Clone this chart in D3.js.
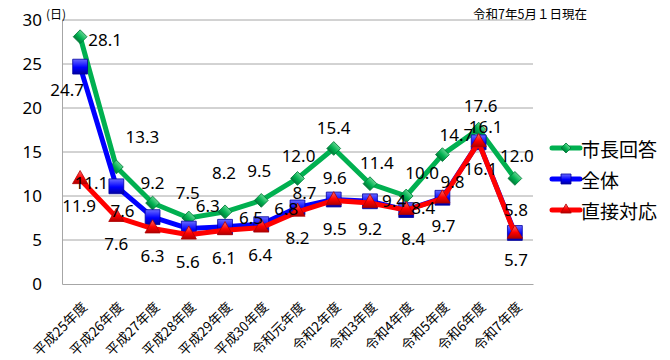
<!DOCTYPE html>
<html>
<head>
<meta charset="utf-8">
<script src="https://cdn.jsdelivr.net/npm/d3@7"></script>
<style>
  body { margin: 0; background: #fff; }
  svg { font-family: "Noto Sans", "Noto Sans CJK JP", sans-serif; }
</style>
</head>
<body>
<svg width="670" height="360"></svg>
<script>
const categories = ["平成25年度", "平成26年度", "平成27年度", "平成28年度", "平成29年度", "平成30年度",
  "令和元年度", "令和2年度", "令和3年度", "令和4年度", "令和5年度", "令和6年度", "令和7年度"];
const mayorValues  = [28.1, 13.3, 9.2, 7.5, 8.2, 9.5, 12.0, 15.4, 11.4, 10.0, 14.7, 17.6, 12.0];
const totalValues  = [24.7, 11.1, 7.6, 6.3, 6.5, 6.8, 8.7, 9.6, 9.4, 8.4, 9.8, 16.1, 5.8];
const directValues = [11.9, 7.6, 6.3, 5.6, 6.1, 6.4, 8.2, 9.5, 9.2, 8.4, 9.7, 16.1, 5.7];
const yTicks = [0, 5, 10, 15, 20, 25, 30];

// label offsets from each point (layout only)
const mayorOffsets  = [[25,3],[26,-30],[0,-21],[-1,-26],[-1,-39],[-2,-30],[1,-23],[0,-21],[7,-21],[16,-24],[14,-20],[2,-24],[2,-23]];
const totalOffsets  = [[-13,23],[-25,-4],[-30,-7],[19,-23],[26,-9],[25,-16],[7,-15],[1,-22],[24,-1],[17,-3],[10,-16],[7,-16],[1,-23]];
const directOffsets = [[-1,26],[0,26],[0,27],[-1,27],[-1,27],[-1,27],[0,26],[1,28],[0,25],[7,28],[1,27],[2,26],[1,26]];

const series = [
  { name: "市長回答", values: mayorValues, offsets: mayorOffsets, color: "#00b050", dark: "#007a38", light: "#5fd68f", shape: d3.symbolSquare, rot: 45, size: 95, lsize: 50 },
  { name: "全体", values: totalValues, offsets: totalOffsets, color: "#0000ff", dark: "#0000a0", light: "#6b6bff", shape: d3.symbolSquare, rot: 0, size: 220, lsize: 100 },
  { name: "直接対応", values: directValues, offsets: directOffsets, color: "#ff0000", dark: "#b00000", light: "#ff7070", shape: d3.symbolTriangle, rot: 0, size: 100, lsize: 48 }
];

const svg = d3.select("svg");
const plotLeft = 62, plotRight = 533, plotTop = 20, plotBottom = 284;

const x = d3.scaleBand().domain(categories).range([plotLeft, plotRight]);
const y = d3.scaleLinear().domain([0, 30]).range([plotBottom, plotTop]);
const cx = c => x(c) + x.bandwidth() / 2;

// gradients for the markers
const defs = svg.append("defs");
series.forEach((s, i) => {
  const g = defs.append("linearGradient").attr("id", "grad" + i)
    .attr("x1", 0).attr("y1", 0).attr("x2", 0).attr("y2", 1);
  g.append("stop").attr("offset", "0%").attr("stop-color", s.light);
  g.append("stop").attr("offset", "55%").attr("stop-color", s.color);
  g.append("stop").attr("offset", "100%").attr("stop-color", s.dark);
});

// gridlines
svg.append("g")
  .selectAll("line")
  .data(yTicks.filter(t => t > 0))
  .enter().append("line")
  .attr("x1", plotLeft).attr("x2", plotRight)
  .attr("y1", d => y(d)).attr("y2", d => y(d))
  .attr("stroke", "#a6a6a6").attr("stroke-width", 1);

// y axis
const yAxis = svg.append("g")
  .attr("transform", `translate(${plotLeft},0)`)
  .call(d3.axisLeft(y).tickValues(yTicks).tickSize(0).tickPadding(20));
yAxis.select(".domain").attr("stroke", "#a6a6a6");
yAxis.selectAll("text").attr("font-size", 17).attr("fill", "#000")
  .attr("font-family", "\"Noto Sans\", sans-serif");

// x axis
const xAxis = svg.append("g")
  .attr("transform", `translate(0,${plotBottom})`)
  .call(d3.axisBottom(x).tickSize(0).tickPadding(0));
xAxis.select(".domain").attr("stroke", "#a6a6a6");
xAxis.selectAll("text")
  .attr("font-size", 13.5).attr("fill", "#000")
  .attr("font-family", "\"Noto Sans CJK JP\", sans-serif")
  .attr("text-anchor", "end")
  .attr("dy", 0)
  .attr("transform", "translate(8,24) rotate(-45)");

svg.append("text").attr("x", 46).attr("y", 19).attr("font-size", 12)
  .attr("font-family", "\"Noto Sans CJK JP\", sans-serif").text("(日)");
svg.append("text").attr("x", 587).attr("y", 19).attr("text-anchor", "end").attr("font-size", 12.5)
  .attr("font-family", "\"Noto Sans CJK JP\", sans-serif").text("令和7年5月１日現在");

const line = d3.line().x((d, i) => cx(categories[i])).y(d => y(d));

series.forEach((s, si) => {
  const g = svg.append("g");
  g.append("path").datum(s.values)
    .attr("d", line)
    .attr("fill", "none")
    .attr("stroke", s.color)
    .attr("stroke-width", 5)
    .attr("stroke-linejoin", "round");
  g.selectAll(".mk").data(s.values).enter().append("path")
    .attr("d", d3.symbol().type(s.shape).size(s.size))
    .attr("transform", (d, i) => `translate(${cx(categories[i])},${y(d)}) rotate(${s.rot})`)
    .attr("fill", `url(#grad${si})`)
    .attr("stroke", s.dark).attr("stroke-width", 0.8);
});

// data labels
series.forEach(s => {
  svg.append("g").selectAll("text").data(s.values).enter().append("text")
    .attr("x", (d, i) => cx(categories[i]) + s.offsets[i][0])
    .attr("y", (d, i) => y(d) + s.offsets[i][1])
    .attr("text-anchor", "middle")
    .attr("dominant-baseline", "central")
    .attr("font-size", 17)
    .attr("fill", "#000")
    .text(d => d.toFixed(1));
});

// legend
const legend = svg.append("g").attr("transform", "translate(552,148)");
series.forEach((s, si) => {
  const row = legend.append("g").attr("transform", `translate(0,${si * 31})`);
  row.append("line").attr("x1", 0).attr("x2", 28).attr("y1", 0).attr("y2", 0)
    .attr("stroke", s.color).attr("stroke-width", 5).attr("stroke-linecap", "round");
  row.append("path").attr("d", d3.symbol().type(s.shape).size(s.lsize))
    .attr("transform", `translate(14,0) rotate(${s.rot})`)
    .attr("fill", `url(#grad${si})`).attr("stroke", s.dark).attr("stroke-width", 0.8);
  row.append("text").attr("x", 29).attr("y", 0)
    .attr("dominant-baseline", "central")
    .attr("font-family", "\"Noto Sans CJK JP\", sans-serif")
    .attr("font-size", 19).text(s.name);
});
</script>
</body>
</html>
